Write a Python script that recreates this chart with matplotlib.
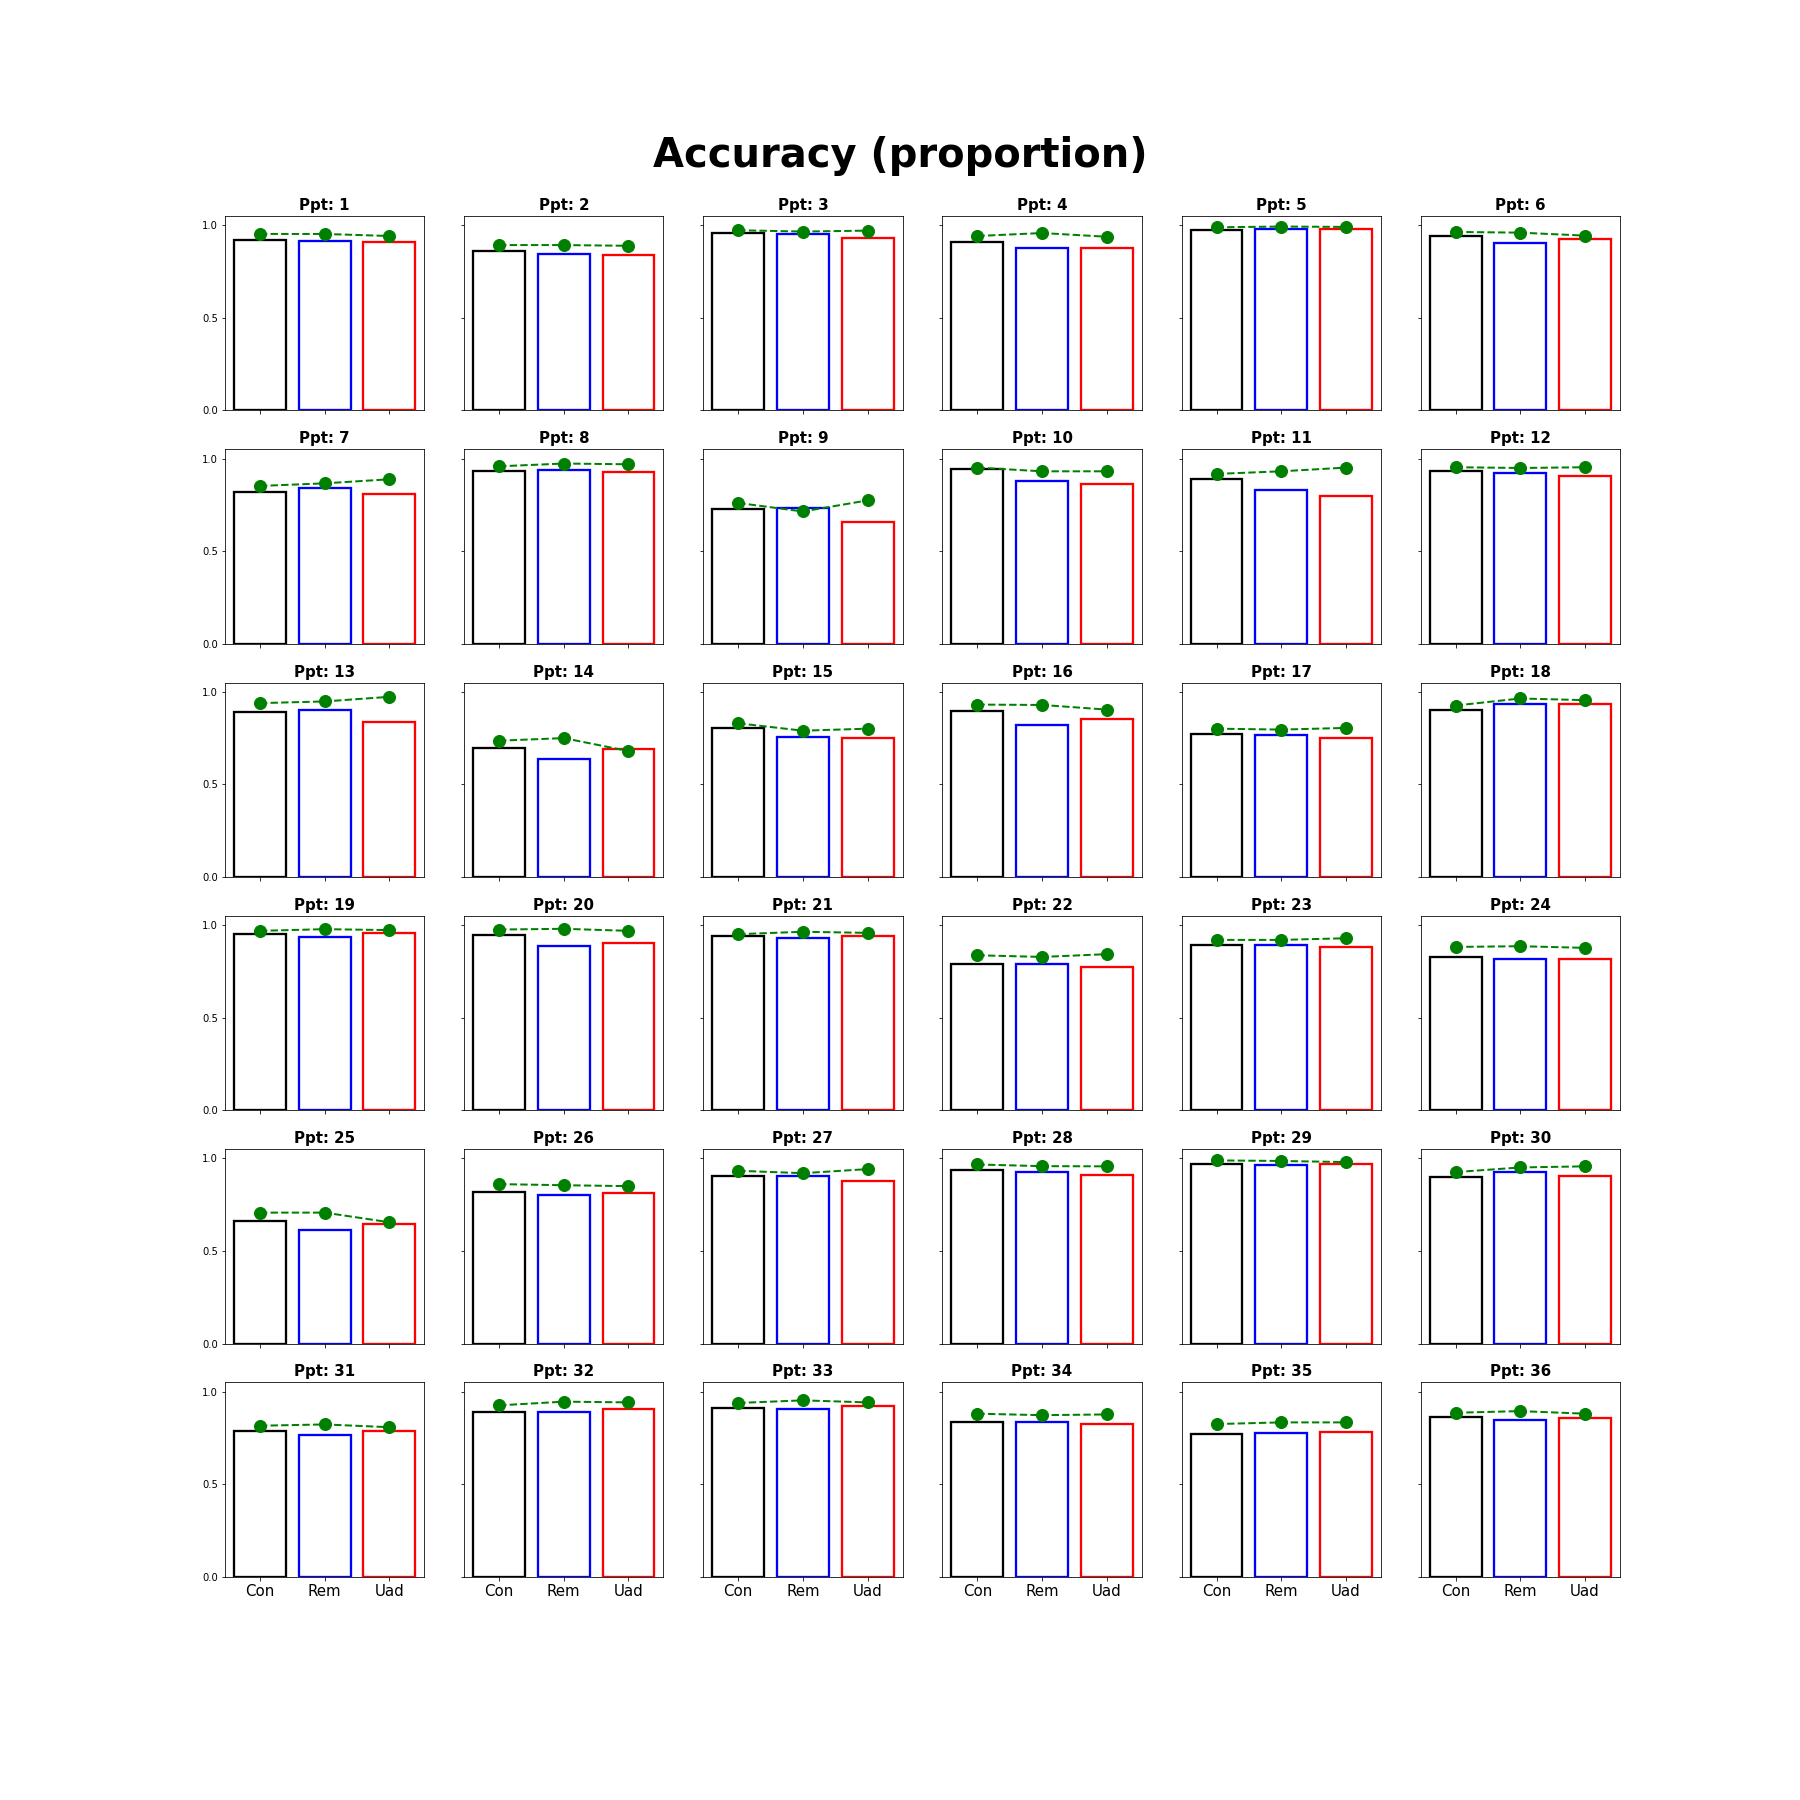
import matplotlib
matplotlib.use('Agg')
import matplotlib.pyplot as plt

conditions = ['Con', 'Rem', 'Uad']
bar_colors = ['black', 'blue', 'red']

# bar heights per participant (1..36)
acc_con = [0.918, 0.859, 0.957, 0.908, 0.973, 0.940,
           0.819, 0.933, 0.727, 0.944, 0.888, 0.933,
           0.890, 0.694, 0.803, 0.895, 0.770, 0.901,
           0.953, 0.949, 0.939, 0.792, 0.893, 0.825,
           0.660, 0.819, 0.906, 0.939, 0.971, 0.901,
           0.787, 0.890, 0.910, 0.835, 0.770, 0.863]
acc_rem = [0.913, 0.846, 0.951, 0.875, 0.978, 0.906,
           0.841, 0.939, 0.732, 0.877, 0.828, 0.922,
           0.901, 0.635, 0.754, 0.819, 0.765, 0.933,
           0.937, 0.888, 0.933, 0.792, 0.893, 0.819,
           0.611, 0.801, 0.906, 0.928, 0.966, 0.928,
           0.765, 0.890, 0.904, 0.835, 0.778, 0.846]
acc_uad = [0.908, 0.842, 0.929, 0.875, 0.978, 0.924,
           0.808, 0.928, 0.656, 0.863, 0.796, 0.906,
           0.835, 0.689, 0.749, 0.852, 0.749, 0.933,
           0.958, 0.904, 0.939, 0.776, 0.884, 0.819,
           0.646, 0.812, 0.879, 0.911, 0.971, 0.906,
           0.787, 0.904, 0.922, 0.825, 0.781, 0.857]

# green dashed markers per participant
dot_con = [0.953, 0.893, 0.973, 0.942, 0.989, 0.964,
           0.852, 0.958, 0.760, 0.951, 0.917, 0.953,
           0.939, 0.736, 0.830, 0.931, 0.801, 0.926,
           0.969, 0.976, 0.951, 0.837, 0.920, 0.882,
           0.707, 0.861, 0.933, 0.967, 0.989, 0.926,
           0.816, 0.926, 0.939, 0.881, 0.825, 0.886]
dot_rem = [0.953, 0.893, 0.966, 0.958, 0.993, 0.960,
           0.866, 0.973, 0.714, 0.931, 0.931, 0.949,
           0.948, 0.750, 0.790, 0.929, 0.796, 0.964,
           0.978, 0.980, 0.964, 0.828, 0.920, 0.886,
           0.707, 0.855, 0.920, 0.958, 0.986, 0.951,
           0.823, 0.946, 0.953, 0.873, 0.834, 0.895]
dot_uad = [0.942, 0.889, 0.971, 0.938, 0.991, 0.944,
           0.888, 0.969, 0.774, 0.931, 0.951, 0.953,
           0.973, 0.680, 0.801, 0.904, 0.805, 0.955,
           0.973, 0.969, 0.958, 0.843, 0.929, 0.877,
           0.655, 0.850, 0.942, 0.957, 0.980, 0.957,
           0.808, 0.942, 0.942, 0.877, 0.834, 0.881]

fig, axes = plt.subplots(6, 6, figsize=(25, 25), sharex=True, sharey=True)
fig.subplots_adjust(left=0.125, right=0.9, bottom=0.124, top=0.88,
                    wspace=0.2, hspace=0.2)

for i, ax in enumerate(axes.flat):
    heights = [acc_con[i], acc_rem[i], acc_uad[i]]
    dots = [dot_con[i], dot_rem[i], dot_uad[i]]
    ax.bar(conditions, heights, fill=False, edgecolor=bar_colors, linewidth=2.3)
    ax.plot(conditions, dots, 'o--', color='green', markersize=12, linewidth=2)
    ax.set_title(f'Ppt: {i + 1}', fontweight='bold', fontsize=15)
    ax.tick_params(axis='y', labelsize=10)
    ax.tick_params(axis='x', labelsize=15)

axes[0, 0].set_ylim(0, 1.05)
axes[0, 0].set_yticks([0.0, 0.5, 1.0])

fig.suptitle('Accuracy (proportion)', fontsize=40, fontweight='bold',
             y=0.907, va='baseline')

fig.savefig('out.png', dpi=72)
